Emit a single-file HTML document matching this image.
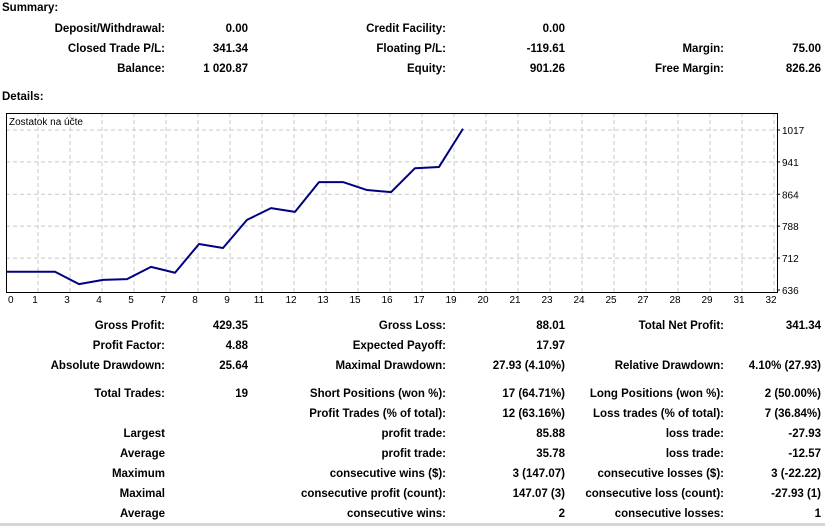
<!DOCTYPE html>
<html><head><meta charset="utf-8">
<style>
body{margin:0;width:825px;height:526px;background:#fff;position:relative;overflow:hidden;font-family:"Liberation Sans",Tahoma,sans-serif;}
.t{position:absolute;font-weight:bold;font-size:11.5px;color:#000;white-space:nowrap;line-height:14px;}
.h{left:2px;}
#chart{position:absolute;left:0;top:0;}
#bar{position:absolute;left:0;top:523px;width:825px;height:3px;background:#d8d6d0;}
</style></head><body>
<div class="t h" style="top:1px">Summary:</div>
<div class="t h" style="top:90px">Details:</div>
<div id="rows"></div>
<svg id="chart" width="825" height="526"></svg>
<div id="bar"></div>
<script>
const rows=[
[22,"Deposit/Withdrawal:","0.00","Credit Facility:","0.00","",""],
[42,"Closed Trade P/L:","341.34","Floating P/L:","-119.61","Margin:","75.00"],
[62,"Balance:","1 020.87","Equity:","901.26","Free Margin:","826.26"],
[319,"Gross Profit:","429.35","Gross Loss:","88.01","Total Net Profit:","341.34"],
[339,"Profit Factor:","4.88","Expected Payoff:","17.97","",""],
[359,"Absolute Drawdown:","25.64","Maximal Drawdown:","27.93 (4.10%)","Relative Drawdown:","4.10% (27.93)"],
[387,"Total Trades:","19","Short Positions (won %):","17 (64.71%)","Long Positions (won %):","2 (50.00%)"],
[407,"","","Profit Trades (% of total):","12 (63.16%)","Loss trades (% of total):","7 (36.84%)"],
[427,"Largest","","profit trade:","85.88","loss trade:","-27.93"],
[447,"Average","","profit trade:","35.78","loss trade:","-12.57"],
[467,"Maximum","","consecutive wins ($):","3 (147.07)","consecutive losses ($):","3 (-22.22)"],
[487,"Maximal","","consecutive profit (count):","147.07 (3)","consecutive loss (count):","-27.93 (1)"],
[507,"Average","","consecutive wins:","2","consecutive losses:","1"]];
const rights=[165,248,446,565,724,821];
const rc=document.getElementById('rows');
rows.forEach((r,ri)=>{for(let c=1;c<7;c++){if(!r[c])continue;const d=document.createElement('div');d.className='t';d.style.top=r[0]+'px';d.style.right=(825-rights[c-1])+'px';d.textContent=r[c];


rc.appendChild(d);}});

const balance=[679.5,679.5,679.5,650,660,662,691,677,745.5,736,803,831,822,893,893,874,869,926,929,1020];
const yTicks=[636,712,788,864,941,1017];
const xTicks=[0,1,3,4,5,7,8,9,11,12,13,15,16,17,19,20,21,23,24,25,27,28,29,31,32];
const NS='http://www.w3.org/2000/svg';
const svg=document.getElementById('chart');
const L=6,T=113,R=777,B=292;
const xs=v=>7+24*v;
const ys=v=>290-(v-636)*(160/381);
function el(n,a){const e=document.createElementNS(NS,n);for(const k in a)e.setAttribute(k,a[k]);svg.appendChild(e);return e;}
for(let k=0;k<24;k++){const x=38+32*k;const g=el('line',{x1:x,y1:T,x2:x,y2:B,stroke:'#c8c8c8','stroke-dasharray':'4,3'});

}
xTicks.forEach((t,i)=>{const x=i==0?8:38+32*(i-1);const tx=el('text',{x:x-(i==0?0:3),y:303,'font-size':'10',fill:'#000','font-family':'Liberation Sans,sans-serif','text-anchor':i==0?'start':'middle'});tx.textContent=t;

});
yTicks.forEach(t=>{const y=ys(t);if(t!=636){const g=el('line',{x1:L,y1:y,x2:R,y2:y,stroke:'#c8c8c8','stroke-dasharray':'4,3'});

}
el('line',{x1:R,y1:y,x2:R+3,y2:y,stroke:'#000'});
const tx=el('text',{x:782,y:y+4,'font-size':'10',fill:'#000','font-family':'Liberation Sans,sans-serif'});tx.textContent=t;

});
const fr=el('rect',{x:L+0.5,y:T+0.5,width:R-L,height:B-T,fill:'none',stroke:'#000'});


const title=el('text',{x:9,y:125,'font-size':'10',fill:'#000','font-family':'Liberation Sans,sans-serif'});title.textContent='Zostatok na účte';


const pts=balance.map((v,i)=>xs(i)+','+ys(v)).join(' ');
const pl=el('polyline',{points:pts,fill:'none',stroke:'#000080','stroke-width':'2','stroke-linejoin':'round'});


</script>
</body></html>
